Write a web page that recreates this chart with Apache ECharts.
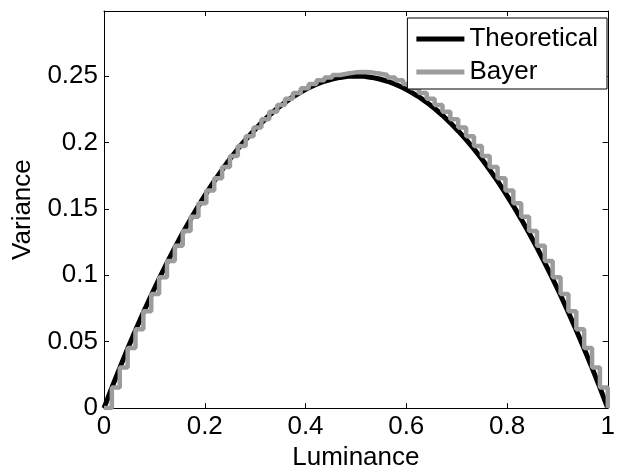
<!DOCTYPE html>
<html>
<head>
<meta charset="utf-8">
<script src="https://cdn.jsdelivr.net/npm/echarts@6/dist/echarts.min.js"></script>
<style>
html,body{margin:0;padding:0;background:#fff;}
#c{width:618px;height:476px;}
</style>
</head>
<body>
<div id="c"></div>
<script>
const lum = [0, 0.0156, 0.0313, 0.0469, 0.0625, 0.0781, 0.0938, 0.1094, 0.125, 0.1406,
  0.1563, 0.1719, 0.1875, 0.2031, 0.2188, 0.2344, 0.25, 0.2656, 0.2813, 0.2969,
  0.3125, 0.3281, 0.3438, 0.3594, 0.375, 0.3906, 0.4063, 0.4219, 0.4375, 0.4531,
  0.4688, 0.4844, 0.5, 0.5156, 0.5313, 0.5469, 0.5625, 0.5781, 0.5938, 0.6094,
  0.625, 0.6406, 0.6563, 0.6719, 0.6875, 0.7031, 0.7188, 0.7344, 0.75, 0.7656,
  0.7813, 0.7969, 0.8125, 0.8281, 0.8438, 0.8594, 0.875, 0.8906, 0.9063, 0.9219,
  0.9375, 0.9531, 0.9688, 0.9844, 1];
const theoretical = [0, 0.0154, 0.0303, 0.0447, 0.0586, 0.0720, 0.0850, 0.0974, 0.1094, 0.1208,
  0.1318, 0.1423, 0.1523, 0.1619, 0.1709, 0.1794, 0.1875, 0.1951, 0.2021, 0.2087,
  0.2148, 0.2205, 0.2256, 0.2302, 0.2344, 0.2380, 0.2412, 0.2439, 0.2461, 0.2478,
  0.2490, 0.2498, 0.2500, 0.2498, 0.2490, 0.2478, 0.2461, 0.2439, 0.2412, 0.2380,
  0.2344, 0.2302, 0.2256, 0.2205, 0.2148, 0.2087, 0.2021, 0.1951, 0.1875, 0.1794,
  0.1709, 0.1619, 0.1523, 0.1423, 0.1318, 0.1208, 0.1094, 0.0974, 0.0850, 0.0720,
  0.0586, 0.0447, 0.0303, 0.0154, 0];
const bayer = [0, 0.0156, 0.0306, 0.0452, 0.0593, 0.0729, 0.0860, 0.0986, 0.1107, 0.1223,
  0.1334, 0.1440, 0.1542, 0.1638, 0.1730, 0.1816, 0.1898, 0.1974, 0.2046, 0.2112,
  0.2174, 0.2231, 0.2283, 0.2330, 0.2372, 0.2409, 0.2441, 0.2468, 0.2490, 0.2508,
  0.2520, 0.2528, 0.2530, 0.2528, 0.2520, 0.2508, 0.2490, 0.2468, 0.2441, 0.2409,
  0.2372, 0.2330, 0.2283, 0.2231, 0.2174, 0.2112, 0.2046, 0.1974, 0.1898, 0.1816,
  0.1730, 0.1638, 0.1542, 0.1440, 0.1334, 0.1223, 0.1107, 0.0986, 0.0860, 0.0729,
  0.0593, 0.0452, 0.0306, 0.0156, 0];
const seriesNames = ['Theoretical', 'Bayer'];

const FONT = 'Liberation Sans, Arial, Helvetica, sans-serif';
const chart = echarts.init(document.getElementById('c'), null, {renderer: 'canvas'});
const axisCommon = {
  axisLine: {show: true, onZero: false, lineStyle: {color: '#000', width: 1}},
  axisTick: {show: true, inside: true, length: 5, lineStyle: {color: '#000', width: 1}},
  splitLine: {show: false}
};
chart.setOption({
  animation: false,
  backgroundColor: '#fff',
  grid: {left: 104, right: 10, top: 11, bottom: 62, containLabel: false},
  legend: {
    data: seriesNames,
    orient: 'vertical',
    right: 11, top: 18,
    icon: 'rect',
    itemWidth: 48, itemHeight: 5,
    itemGap: 7,
    padding: [8, 9, 4, 9],
    borderColor: '#000', borderWidth: 1,
    backgroundColor: '#fff',
    textStyle: {fontFamily: FONT, fontSize: 26, color: '#000', lineHeight: 26}
  },
  xAxis: [
    Object.assign({}, axisCommon, {
      type: 'value', min: 0, max: 1, interval: 0.2, position: 'bottom',
      name: 'Luminance', nameLocation: 'middle', nameGap: 35,
      nameTextStyle: {fontFamily: FONT, fontSize: 26, color: '#000'},
      axisLabel: {fontFamily: FONT, fontSize: 26, color: '#000', margin: 6}
    }),
    Object.assign({}, axisCommon, {
      type: 'value', min: 0, max: 1, interval: 0.2, position: 'top',
      axisLabel: {show: false}
    })
  ],
  yAxis: [
    Object.assign({}, axisCommon, {
      type: 'value', min: 0, max: 0.299, interval: 0.05, position: 'left',
      name: 'Variance', nameLocation: 'middle', nameGap: 68,
      nameTextStyle: {fontFamily: FONT, fontSize: 26, color: '#000'},
      axisLabel: {fontFamily: FONT, fontSize: 26, color: '#000', margin: 6, showMaxLabel: false}
    }),
    Object.assign({}, axisCommon, {
      type: 'value', min: 0, max: 0.299, interval: 0.05, position: 'right',
      axisLabel: {show: false}
    })
  ],
  series: [
    {
      name: seriesNames[0], type: 'line', xAxisIndex: 0, yAxisIndex: 0,
      data: lum.map((x, i) => [x, theoretical[i]]),
      showSymbol: false, symbol: 'none',
      lineStyle: {color: '#000', width: 5},
      itemStyle: {color: '#000'}, z: 2
    },
    {
      name: seriesNames[1], type: 'line', xAxisIndex: 0, yAxisIndex: 0,
      data: lum.map((x, i) => [x, bayer[i]]),
      step: 'end',
      showSymbol: false, symbol: 'none',
      lineStyle: {color: '#9c9c9c', width: 4.5},
      itemStyle: {color: '#9c9c9c'}, z: 3
    }
  ]
});
</script>
</body>
</html>
